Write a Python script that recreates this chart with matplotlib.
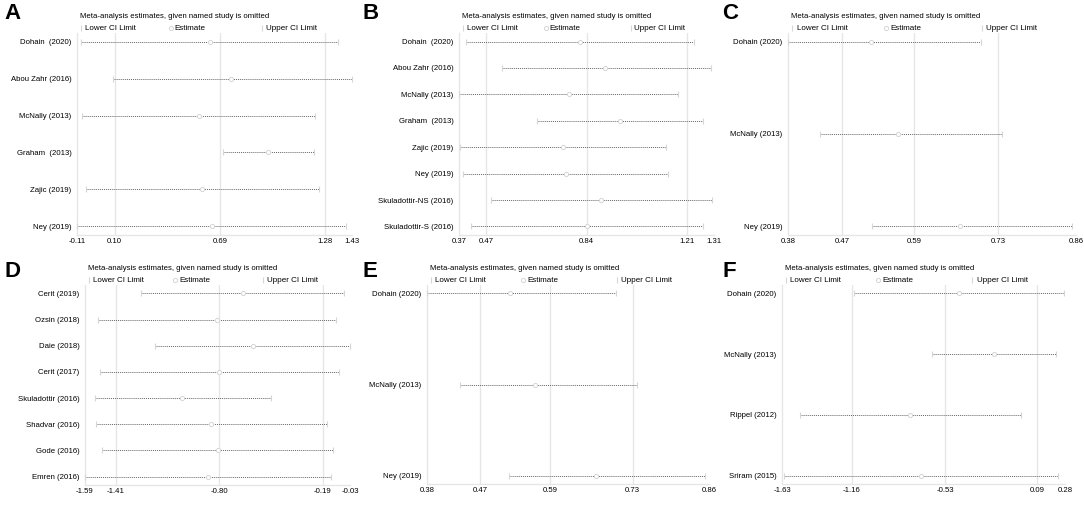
import numpy as np
import matplotlib.pyplot as plt

plt.rcParams['font.family'] = ['Liberation Sans', 'DejaVu Sans']

# Panel A
a_studies = ['Dohain  (2020)', 'Abou Zahr (2016)', 'McNally (2013)', 'Graham  (2013)', 'Zajic (2019)', 'Ney (2019)']
a_lower = [-0.085, 0.093, -0.08, 0.705, -0.058, -0.11]
a_est = [0.633, 0.755, 0.571, 0.96, 0.588, 0.645]
a_upper = [1.35, 1.43, 1.223, 1.217, 1.245, 1.395]
a_ticks = [-0.11, 0.10, 0.69, 1.28, 1.43]

# Panel B
b_studies = ['Dohain  (2020)', 'Abou Zahr (2016)', 'McNally (2013)', 'Graham  (2013)', 'Zajic (2019)',
             'Ney (2019)', 'Skuladottir-NS (2016)', 'Skuladottir-S (2016)']
b_lower = [0.394, 0.528, 0.37, 0.659, 0.374, 0.386, 0.488, 0.415]
b_est = [0.815, 0.91, 0.775, 0.964, 0.754, 0.764, 0.895, 0.843]
b_upper = [1.235, 1.30, 1.179, 1.271, 1.134, 1.142, 1.302, 1.271]
b_ticks = [0.37, 0.47, 0.84, 1.21, 1.31]

# Panel C
c_studies = ['Dohain (2020)', 'McNally (2013)', 'Ney (2019)']
c_lower = [0.38, 0.434, 0.52]
c_est = [0.518, 0.564, 0.666]
c_upper = [0.701, 0.737, 0.854]
c_ticks = [0.38, 0.47, 0.59, 0.73, 0.86]

# Panel D
d_studies = ['Cerit (2019)', 'Ozsin (2018)', 'Daie (2018)', 'Cerit (2017)', 'Skuladottir (2016)',
             'Shadvar (2016)', 'Gode (2016)', 'Emren (2016)']
d_lower = [-1.261, -1.513, -1.176, -1.503, -1.534, -1.528, -1.489, -1.59]
d_est = [-0.657, -0.813, -0.60, -0.80, -1.017, -0.849, -0.809, -0.866]
d_upper = [-0.067, -0.113, -0.03, -0.097, -0.495, -0.168, -0.129, -0.142]
d_ticks = [-1.59, -1.41, -0.80, -0.19, -0.03]

# Panel E
e_studies = ['Dohain (2020)', 'McNally (2013)', 'Ney (2019)']
e_lower = [0.38, 0.436, 0.52]
e_est = [0.522, 0.564, 0.667]
e_upper = [0.701, 0.737, 0.853]
e_ticks = [0.38, 0.47, 0.59, 0.73, 0.86]

# Panel F
f_studies = ['Dohain (2020)', 'McNally (2013)', 'Rippel (2012)', 'Sriram (2015)']
f_lower = [-1.144, -0.62, -1.506, -1.616]
f_est = [-0.434, -0.198, -0.766, -0.692]
f_upper = [0.275, 0.217, -0.014, 0.235]
f_ticks = [-1.63, -1.16, -0.53, 0.09, 0.28]

W, H = 1084, 528
fig = plt.figure(figsize=(W / 100, H / 100), dpi=100)

# pixel boxes (left, top, right, bottom)
panels = [
    ('A', (77, 33, 352, 235), a_studies, a_lower, a_est, a_upper, a_ticks, (4, 3)),
    ('B', (459, 33, 714, 235), b_studies, b_lower, b_est, b_upper, b_ticks, (363, 3)),
    ('C', (788, 33, 1076, 235), c_studies, c_lower, c_est, c_upper, c_ticks, (722, 3)),
    ('D', (85, 285, 350, 485), d_studies, d_lower, d_est, d_upper, d_ticks, (4, 261)),
    ('E', (427, 285, 709, 484), e_studies, e_lower, e_est, e_upper, e_ticks, (363, 261)),
    ('F', (782, 285, 1065, 484), f_studies, f_lower, f_est, f_upper, f_ticks, (722, 261)),
]

line_col = '#666666'
light = '#d6d6d6'
grid_col = '#e6e6e6'
fs = 5.6

for letter, box, studies, lo, est, up, ticks, lpos in panels:
    l, t, r, b = box
    ax = fig.add_axes([l / W, 1 - b / H, (r - l) / W, (b - t) / H])
    n = len(studies)
    y = np.arange(n)

    for xv in ticks[1:4]:
        ax.axvline(xv, color=grid_col, lw=1, zorder=0)

    ax.hlines(y, lo, up, color=line_col, lw=0.7, linestyles=(0, (1, 1)), zorder=2)
    ax.plot(lo, y, ls='none', marker='|', ms=5, mew=0.8, color=light, zorder=3, clip_on=False)
    ax.plot(up, y, ls='none', marker='|', ms=5, mew=0.8, color=light, zorder=3, clip_on=False)
    ax.plot(est, y, ls='none', marker='o', ms=3, mfc='white', mec=light, mew=0.7, zorder=3, clip_on=False)

    pad = 0.046 * (n - 1)
    ax.set_ylim(n - 1 + pad, -pad)
    ax.set_xlim(ticks[0], ticks[-1])
    ax.set_yticks(y)
    ax.set_yticklabels(studies, fontsize=fs)
    ax.set_xticks(ticks)
    ax.set_xticklabels([f'{v:.2f}' for v in ticks], fontsize=fs)
    ax.tick_params(axis='both', length=0)
    ax.tick_params(axis='y', pad=4)
    ax.tick_params(axis='x', pad=2)
    for s in ['top', 'right']:
        ax.spines[s].set_visible(False)
    for s in ['left', 'bottom']:
        ax.spines[s].set_color('#e6e6e6')
        ax.spines[s].set_linewidth(1)

    # legend header
    ax.text(0.01, 1.0 + 17 / (b - t), 'Meta-analysis estimates, given named study is omitted',
            transform=ax.transAxes, fontsize=fs, va='center', ha='left')
    ly = 1.0 + 5 / (b - t)
    for xf, mk, lab in [(0.015, '|', 'Lower CI Limit'), (0.34, 'o', 'Estimate'), (0.673, '|', 'Upper CI Limit')]:
        if mk == 'o':
            ax.plot([xf], [ly], marker='o', ms=3, mfc='white', mec=light, mew=0.7,
                    transform=ax.transAxes, clip_on=False)
        else:
            ax.plot([xf], [ly], marker='|', ms=5, mew=0.8, color=light,
                    transform=ax.transAxes, clip_on=False)
        ax.text(xf + 0.015, ly, lab, transform=ax.transAxes, fontsize=fs + 0.2, va='center', ha='left')

    fig.text(lpos[0] / W, 1 - lpos[1] / H, letter, fontsize=16, fontweight='bold', va='top', ha='left')

fig.savefig('out.png', dpi=100, facecolor='white')
